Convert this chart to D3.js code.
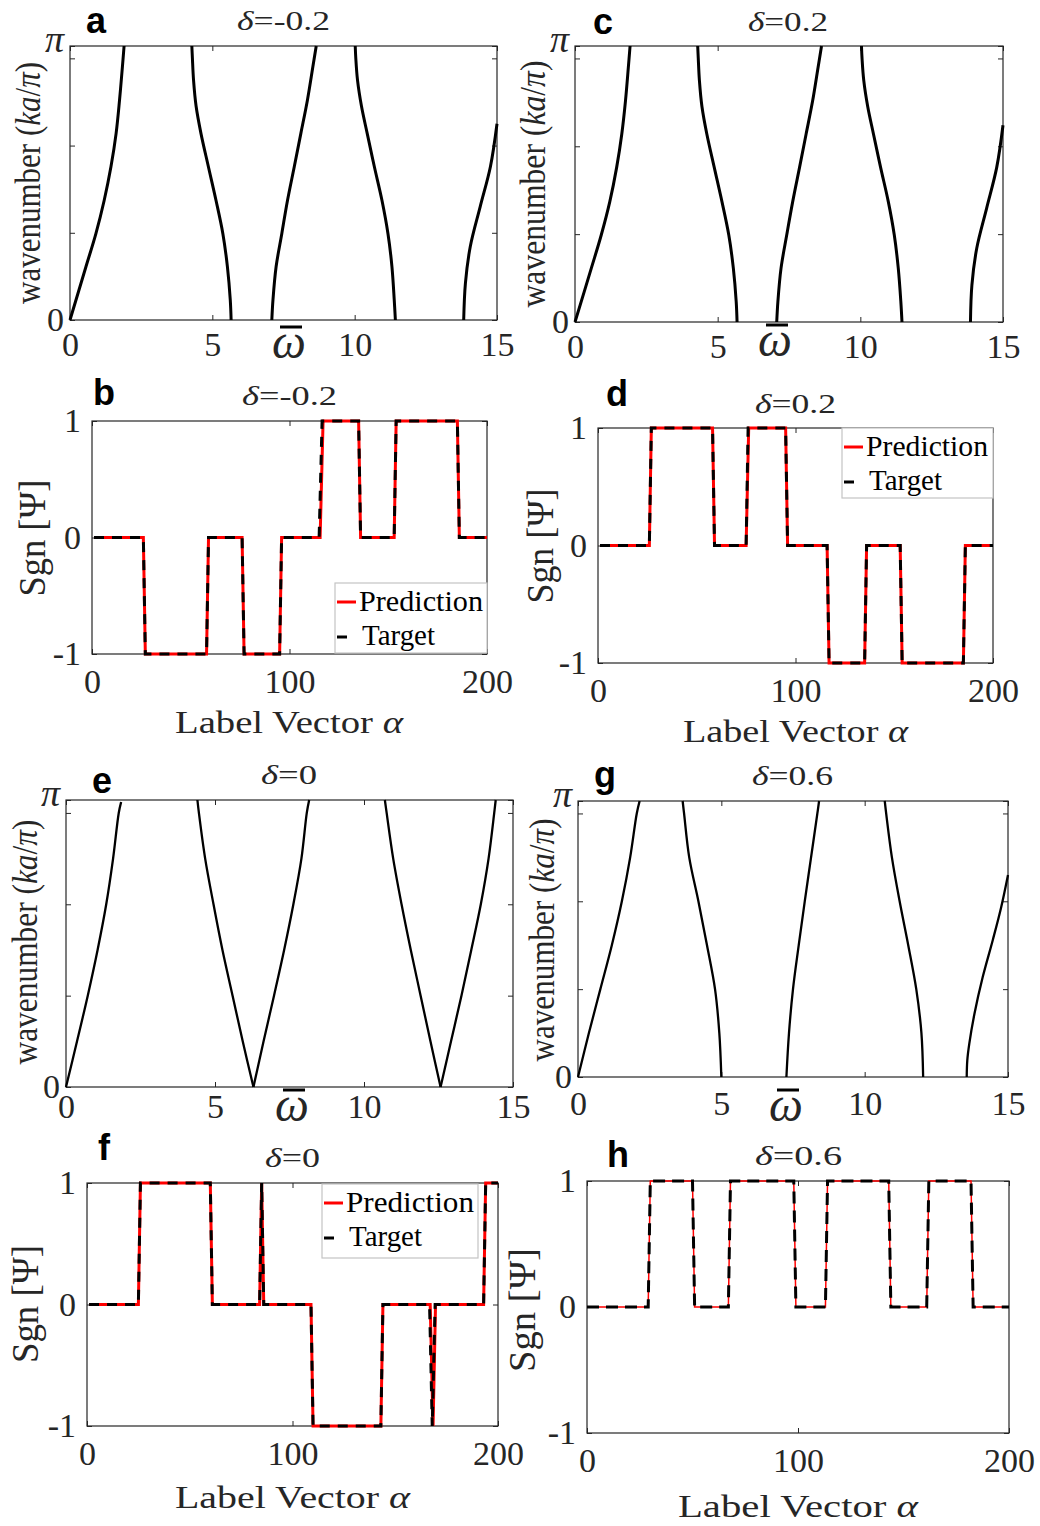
<!DOCTYPE html>
<html>
<head>
<meta charset="utf-8">
<script src="https://cdn.jsdelivr.net/npm/d3@7"></script>
<style>
body { margin: 0; background: #fff; }
svg text { font-family: "Liberation Serif", "Times New Roman", serif; fill: #262626; }
svg text.letter { font-family: "Liberation Sans", Arial, sans-serif; font-weight: bold; fill: #000; }
</style>
</head>
<body>
<div id="fig"></div>
<script>
// tick values
var omegaTicks = [0, 5, 10, 15];
var kTicks = [0, 1, 2, 3, Math.PI];
var alphaTicks = [0, 100, 200];
var sgnTicks = [-1, 0, 1];

// dispersion branches, points are [omega, k]
var bandsA = [
  [[0, 0], [0.56, 0.61], [0.91, 0.99], [1.2, 1.37], [1.44, 1.76], [1.62, 2.14], [1.74, 2.52], [1.84, 2.9], [1.9, 3.1416]],
  [[5.66, 0], [5.63, 0.23], [5.53, 0.61], [5.37, 0.99], [5.13, 1.37], [4.86, 1.76], [4.6, 2.14], [4.43, 2.45], [4.34, 2.75], [4.3, 3.0], [4.28, 3.1416]],
  [[7.09, 0], [7.13, 0.23], [7.24, 0.61], [7.44, 0.99], [7.64, 1.37], [7.88, 1.76], [8.11, 2.14], [8.34, 2.52], [8.53, 2.9], [8.65, 3.1416]],
  [[11.43, 0], [11.39, 0.23], [11.31, 0.61], [11.17, 0.99], [10.96, 1.37], [10.69, 1.76], [10.44, 2.14], [10.24, 2.45], [10.1, 2.75], [10.04, 3.0], [10.02, 3.1416]],
  [[13.83, 0], [13.89, 0.42], [14.06, 0.84], [14.41, 1.3], [14.77, 1.76], [15, 2.25]]
];
var bandsC = [
  [[0, 0], [0.57, 0.61], [0.92, 0.99], [1.22, 1.37], [1.46, 1.76], [1.64, 2.14], [1.77, 2.52], [1.87, 2.9], [1.93, 3.1416]],
  [[5.68, 0], [5.65, 0.23], [5.55, 0.61], [5.39, 0.99], [5.15, 1.37], [4.88, 1.76], [4.62, 2.14], [4.45, 2.45], [4.36, 2.75], [4.32, 3.0], [4.3, 3.1416]],
  [[7.07, 0], [7.11, 0.23], [7.22, 0.61], [7.42, 0.99], [7.63, 1.37], [7.87, 1.76], [8.1, 2.14], [8.33, 2.52], [8.52, 2.9], [8.64, 3.1416]],
  [[11.46, 0], [11.42, 0.23], [11.33, 0.61], [11.19, 0.99], [10.98, 1.37], [10.71, 1.76], [10.46, 2.14], [10.26, 2.45], [10.12, 2.75], [10.06, 3.0], [10.04, 3.1416]],
  [[13.86, 0], [13.91, 0.42], [14.08, 0.84], [14.43, 1.3], [14.78, 1.76], [15, 2.24]]
];
var bandsE = [
  [[0, 0], [0.37, 0.5], [0.73, 1], [1.06, 1.5], [1.35, 2], [1.58, 2.5], [1.77, 3], [1.85, 3.12]],
  [[6.29, 0], [5.93, 0.5], [5.59, 1], [5.25, 1.5], [4.95, 2], [4.67, 2.5], [4.46, 3], [4.41, 3.1416]],
  [[6.29, 0], [6.63, 0.5], [6.98, 1], [7.32, 1.5], [7.63, 2], [7.9, 2.5], [8.08, 3], [8.16, 3.1416]],
  [[12.57, 0], [12.23, 0.5], [11.9, 1], [11.57, 1.5], [11.26, 2], [10.98, 2.5], [10.76, 3], [10.7, 3.1416]],
  [[12.57, 0], [12.92, 0.5], [13.27, 1], [13.6, 1.5], [13.92, 2], [14.18, 2.5], [14.37, 3], [14.42, 3.1416]]
];
var bandsG = [
  [[0, 0], [0.38, 0.5], [0.78, 1], [1.18, 1.5], [1.53, 2], [1.82, 2.5], [2.05, 3], [2.15, 3.1416]],
  [[5.0, 0], [4.93, 0.5], [4.78, 1], [4.5, 1.5], [4.2, 2], [3.88, 2.5], [3.7, 3], [3.65, 3.1416]],
  [[7.27, 0], [7.36, 0.5], [7.5, 1], [7.7, 1.5], [7.91, 2], [8.13, 2.5], [8.35, 3], [8.41, 3.1416]],
  [[12.04, 0], [11.98, 0.5], [11.8, 1], [11.52, 1.5], [11.22, 2], [10.95, 2.5], [10.75, 3], [10.7, 3.1416]],
  [[13.56, 0], [13.58, 0.19], [13.65, 0.38], [13.83, 0.72], [14.12, 1.14], [14.47, 1.56], [14.76, 1.93], [15, 2.3]]
];

// sign patterns, [alpha, sgn] breakpoints
var predB = [[1, 0], [26, 0], [27, -1], [58, -1], [59, 0], [76, 0], [77, -1], [95, -1], [96, 0], [115.5, 0], [117, 1], [135, 1], [136, 0], [153, 0], [154, 1], [185, 1], [186, 0], [200, 0]];
var targB = [[1, 0], [26, 0], [27, -1], [58, -1], [59, 0], [76, 0], [77, -1], [95, -1], [96, 0], [115, 0], [116.5, 1], [135, 1], [136, 0], [153, 0], [154, 1], [185, 1], [186, 0], [200, 0]];
var predD = [[1, 0], [26, 0], [27, 1], [58, 1], [59, 0], [75, 0], [76.3, 1], [95, 1], [96, 0], [116, 0], [117, -1], [135, -1], [136, 0], [153, 0], [154, -1], [185, -1], [186, 0], [200, 0]];
var targD = [[1, 0], [26, 0], [27, 1], [58, 1], [59, 0], [75, 0], [76, 1], [95, 1], [96, 0], [116, 0], [117, -1], [135, -1], [136, 0], [153, 0], [154, -1], [185, -1], [186, 0], [200, 0]];
var predF = [[1, 0], [25, 0], [26, 1], [60, 1], [61, 0], [84, 0], [85, 1], [86, 0], [109, 0], [110, -1], [143, -1], [144, 0], [167, 0], [168.4, -1], [169.6, 0], [193, 0], [194, 1], [200, 1]];
var targF = [[1, 0], [25, 0], [26, 1], [60, 1], [61, 0], [84, 0], [85, 1], [86, 0], [109, 0], [110, -1], [143, -1], [144, 0], [166.7, 0], [168, -1], [169.4, 0], [193, 0], [194, 1], [200, 1]];
var predH = [[0, 0], [29, 0], [30, 1], [50, 1], [51, 0], [67, 0], [68, 1], [98, 1], [99, 0], [113, 0], [114, 1], [143, 1], [144, 0], [161, 0], [162, 1], [182, 1], [183, 0], [200, 0]];
var targH = [[0, 0], [29, 0], [30, 1], [50, 1], [51, 0], [67, 0], [68, 1], [98, 1], [99, 0], [113, 0], [114, 1], [143, 1], [144, 0], [161, 0], [162, 1], [182, 1], [183, 0], [200, 0]];

var W = 1040, H = 1526;
var svg = d3.select('#fig').append('svg').attr('width', W).attr('height', H);
svg.append('rect').attr('width', W).attr('height', H).attr('fill', '#fff');

function addText(x, y, parts, opt) {
  var t = svg.append('text').attr('x', x).attr('y', y)
    .attr('font-size', opt.size)
    .attr('text-anchor', opt.anchor || 'middle');
  if (opt.cls) t.attr('class', opt.cls);
  if (opt.rot) t.attr('transform', 'rotate(-90,' + x + ',' + y + ')');
  if (opt.len) t.attr('textLength', opt.len).attr('lengthAdjust', 'spacingAndGlyphs');
  parts.forEach(function(p) {
    t.append('tspan').text(p[0]).attr('font-style', p[1] ? 'italic' : 'normal');
  });
  return t;
}

function plain(d) { return String(d); }  // keeps the hyphen in "-1"

// box with inward ticks on all four sides
function frame(g, x, y, xt, yt, xfmt, yfmt, xpad, ypad) {
  var l = x.range()[0], r = x.range()[1], b = y.range()[0], t = y.range()[1];
  var axes = [
    g.append('g').attr('transform', 'translate(0,' + b + ')')
      .call(d3.axisBottom(x).tickValues(xt).tickFormat(xfmt).tickSizeInner(-5).tickSizeOuter(0).tickPadding(xpad)),
    g.append('g').attr('transform', 'translate(0,' + t + ')')
      .call(d3.axisTop(x).tickValues(xt).tickFormat('').tickSizeInner(-5).tickSizeOuter(0)),
    g.append('g').attr('transform', 'translate(' + l + ',0)')
      .call(d3.axisLeft(y).tickValues(yt).tickFormat(yfmt).tickSizeInner(-5).tickSizeOuter(0).tickPadding(ypad)),
    g.append('g').attr('transform', 'translate(' + r + ',0)')
      .call(d3.axisRight(y).tickValues(yt).tickFormat('').tickSizeInner(-5).tickSizeOuter(0))
  ];
  axes.forEach(function(a) {
    a.attr('font-size', 34).attr('font-family', null).attr('color', '#262626');
    a.select('.domain').remove();
  });
  g.append('rect').attr('x', l).attr('y', t).attr('width', r - l).attr('height', b - t)
    .attr('fill', 'none').attr('stroke', '#262626').attr('stroke-width', 1.2);
}

function drawBand(p) {
  var g = svg.append('g');
  var x = d3.scaleLinear().domain([0, 15]).range([p.box[0], p.box[2]]);
  var y = d3.scaleLinear().domain([0, Math.PI]).range([p.box[3], p.box[1]]);
  frame(g, x, y, omegaTicks, kTicks, plain, function(d) {
    return d === 0 ? '0' : (d === Math.PI ? 'π' : '');
  }, p.xpad, 6);
  g.selectAll('text').filter(function() { return this.textContent === 'π'; })
    .attr('font-style', 'italic').attr('font-size', 38).attr('dy', '0.15em');
  var line = d3.line().x(function(d) { return x(d[0]); }).y(function(d) { return y(d[1]); })
    .curve(d3.curveCatmullRom);
  g.selectAll('path.band').data(p.bands).enter().append('path')
    .attr('class', 'band')
    .attr('d', line)
    .attr('fill', 'none').attr('stroke', '#000').attr('stroke-width', p.lw);

  addText(p.letter[0], p.letter[1], [[p.id, 0]], {size: 36, cls: 'letter', anchor: 'start'});
  addText(p.title[0], p.title[1], [['δ', 1], ['=' + p.delta, 0]], {size: 27, len: p.title[2]});
  addText(p.ylab[0], p.ylab[1], [['wavenumber (', 0], ['ka', 1], ['/', 0], ['π', 1], [')', 0]],
    {size: 35, rot: true, len: p.ylab[2]});
  // omega bar
  addText(p.omega[0], p.omega[1], [['ω', 1]], {size: 48});
  svg.append('line')
    .attr('x1', p.omega[0] - 9).attr('x2', p.omega[0] + 13)
    .attr('y1', p.omega[1] - 31).attr('y2', p.omega[1] - 31)
    .attr('stroke', '#000').attr('stroke-width', 3);
}

function drawSgn(p) {
  var g = svg.append('g');
  var x = d3.scaleLinear().domain([0, 200]).range([p.box[0], p.box[2]]);
  var y = d3.scaleLinear().domain([-1, 1]).range([p.box[3], p.box[1]]);
  frame(g, x, y, alphaTicks, sgnTicks, plain, plain, 15, 11);
  var line = d3.line().x(function(d) { return x(d[0]); }).y(function(d) { return y(d[1]); });
  g.append('path').datum(p.pred).attr('d', line)
    .attr('fill', 'none').attr('stroke', '#ff0000').attr('stroke-width', p.redW);
  g.append('path').datum(p.targ).attr('d', line)
    .attr('fill', 'none').attr('stroke', '#000').attr('stroke-width', 3)
    .attr('stroke-dasharray', p.dash);

  addText(p.letter[0], p.letter[1], [[p.id, 0]], {size: 36, cls: 'letter', anchor: 'start'});
  addText(p.title[0], p.title[1], [['δ', 1], ['=' + p.delta, 0]], {size: 27, len: p.title[2]});
  addText(p.ylab[0], p.ylab[1], [['Sgn [Ψ]', 0]], {size: 37, rot: true, len: p.ylab[2]});
  addText(p.xlab[0], p.xlab[1], [['Label Vector  ', 0], ['α', 1]], {size: 31, len: p.xlab[2]});

  if (p.legend) {
    var L = p.legend;
    var lg = svg.append('g');
    lg.append('rect').attr('x', L[0]).attr('y', L[1]).attr('width', L[2] - L[0]).attr('height', L[3] - L[1])
      .attr('fill', '#fff').attr('stroke', '#c4c4c4').attr('stroke-width', 1.2);
    lg.append('line').attr('x1', L[0] + 2).attr('x2', L[0] + 21).attr('y1', L[1] + 19).attr('y2', L[1] + 19)
      .attr('stroke', '#ff0000').attr('stroke-width', 3);
    lg.append('line').attr('x1', L[0] + 2).attr('x2', L[0] + 12).attr('y1', L[1] + 54).attr('y2', L[1] + 54)
      .attr('stroke', '#000').attr('stroke-width', 3);
    addText(L[0] + 24, L[1] + 28, [['Prediction', 0]], {size: 29, anchor: 'start', len: L[4]})
      .style('fill', '#000');
    addText(L[0] + 27, L[1] + 62, [['Target', 0]], {size: 29, anchor: 'start', len: 73})
      .style('fill', '#000');
  }
}

var bandPanels = [
  {id: 'a', delta: '-0.2', bands: bandsA, box: [70, 46, 497, 320], lw: 3, xpad: 12,
    letter: [86, 33], title: [283.5, 30, 93], ylab: [40, 183, 242], omega: [289, 358]},
  {id: 'c', delta: '0.2', bands: bandsC, box: [575, 46, 1003, 322], lw: 3, xpad: 12,
    letter: [593, 34], title: [788, 31, 80], ylab: [545, 184, 247], omega: [775, 356]},
  {id: 'e', delta: '0', bands: bandsE, box: [66, 800, 513, 1087], lw: 2.3, xpad: 7,
    letter: [92, 793], title: [289, 784, 56], ylab: [37, 942, 245], omega: [292, 1121]},
  {id: 'g', delta: '0.6', bands: bandsG, box: [578, 801, 1008, 1077], lw: 2.3, xpad: 14,
    letter: [594, 787], title: [792.5, 785, 81], ylab: [554, 940, 243], omega: [786, 1121]}
];

var sgnPanels = [
  {id: 'b', delta: '-0.2', pred: predB, targ: targB, box: [92, 421, 487, 654], redW: 3, dash: '10,8',
    letter: [93, 405], title: [289.5, 405, 95], ylab: [45, 538, 117], xlab: [289, 733, 228],
    legend: [335, 583, 487, 653, 124]},
  {id: 'd', delta: '0.2', pred: predD, targ: targD, box: [598, 428, 993, 663], redW: 3, dash: '10,8',
    letter: [606, 406], title: [795.5, 413, 81], ylab: [553, 546, 115], xlab: [795.5, 742, 225],
    legend: [842, 428, 993, 498, 122]},
  {id: 'f', delta: '0', pred: predF, targ: targF, box: [87, 1183, 498, 1426], redW: 3, dash: '10,8',
    letter: [98, 1160], title: [292.5, 1167, 55], ylab: [38, 1304, 118], xlab: [292.5, 1508, 235],
    legend: [322, 1184, 478, 1258, 128]},
  {id: 'h', delta: '0.6', pred: predH, targ: targH, box: [587, 1181, 1009, 1433], redW: 1.5, dash: '12,7',
    letter: [607, 1167], title: [798.5, 1165, 87], ylab: [535, 1310, 124], xlab: [798, 1517, 240],
    legend: null}
];

bandPanels.forEach(drawBand);
sgnPanels.forEach(drawSgn);
</script>
</body>
</html>
